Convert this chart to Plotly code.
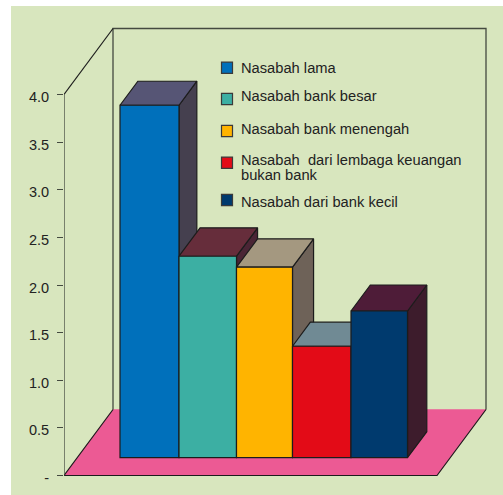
import plotly.graph_objects as go

# ---- data -------------------------------------------------------------
categories = ["Nasabah lama", "Nasabah bank besar", "Nasabah bank menengah",
              "Nasabah  dari lembaga keuangan\nbukan bank", "Nasabah dari bank kecil"]
values = [3.70, 2.115, 2.00, 1.17, 1.54]
front_colors = ["#0070BB", "#3CAFA3", "#FFB400", "#E30B17", "#003A6E"]
top_colors = ["#565575", "#662D3B", "#A49880", "#708A94", "#4E1C38"]
side_colors = ["#45404F", "#4A2535", "#6E6258", "#4A4A55", "#3D1C2C"]
tick_values = [0, 0.5, 1, 1.5, 2, 2.5, 3, 3.5, 4]
tick_labels = ["-", "0.5", "1.0", "1.5", "2.0", "2.5", "3.0", "3.5", "4.0"]

# ---- frame ------------------------------------------------------------
W, H = 503, 495
LEFT, TOP = 64, 6
BG, FLOOR, INK, FRAME = "#D8E6BE", "#EC5A94", "#1C1C1C", "#444A40"
UX, UY = 57.5, 95.25             # px per category / per value unit
X0, Y0 = 148.75, 475.5           # px position of first bar centre / value 0
xrange = [(LEFT - X0) / UX, (W - X0) / UX]
yrange = [(Y0 - H) / UY, (Y0 - TOP) / UY]
LABEL_DROP = 2.5                 # tick labels sit this many px under their ticks
label_range = [yrange[0] + LABEL_DROP / UY, yrange[1] + LABEL_DROP / UY]

# oblique depth: a full floor depth shifts this many axis units
DX, DY = 49 / UX, 66 / UY
wall_x0 = (LEFT - X0) / UX       # left end of the floor front edge
wall_x1 = (437 - X0) / UX        # right end of the floor front edge
v_top = 4.0
bar_d0 = 0.27                    # bar front as a floor-depth fraction
bar_depths = [0.364, 0.43, 0.43, 0.364, 0.394]
bar_edges_px = [120, 179, 236.5, 292.5, 351, 407.5]
legend_swatch_px = [67.7, 99, 131, 162.7, 200]
legend_text_px = [[67.5], [96.5], [128.5], [160.5, 174.5], [202]]


def edge(i):
    return (bar_edges_px[i] - X0) / UX


def proj(x, v, d):
    """category/value/depth to the plotted x, y."""
    return x + d * DX, v + d * DY


def poly(pts, fill, line=INK, width=1.2):
    xs, ys = zip(*pts)
    return go.Scatter(x=list(xs) + [xs[0]], y=list(ys) + [ys[0]], mode="lines", fill="toself",
                      fillcolor=fill, line=dict(color=line, width=width),
                      hoverinfo="skip", showlegend=False)


def path(pts, color=FRAME, width=1.3):
    xs, ys = zip(*pts)
    return go.Scatter(x=list(xs), y=list(ys), mode="lines", line=dict(color=color, width=width),
                      hoverinfo="skip", showlegend=False)


fig = go.Figure()

# floor
fig.add_trace(poly([proj(wall_x0, 0, 0), proj(wall_x1, 0, 0), proj(wall_x1, 0, 1), proj(wall_x0, 0, 1)],
                   FLOOR, line=FLOOR, width=0.5))
# walls
fig.add_trace(path([proj(wall_x0, 0, 1), proj(wall_x0, v_top, 1), proj(wall_x1, v_top, 1), proj(wall_x1, 0, 1)]))
fig.add_trace(path([proj(wall_x0, v_top, 0), proj(wall_x0, v_top, 1)], INK, 1.2))
fig.add_trace(path([proj(wall_x0, 0, 1), proj(wall_x0, 0, 0), proj(wall_x1, 0, 0), proj(wall_x1, 0, 1)], INK, 1.2))
fig.add_trace(path([proj(wall_x0, 0, 0), proj(wall_x0, v_top, 0)]))

# depth faces, painted from left to right
for i, v in enumerate(values):
    xl, xr = edge(i) - bar_d0 * DX, edge(i + 1) - bar_d0 * DX
    d1 = bar_d0 + bar_depths[i]
    fig.add_trace(poly([proj(xr, 0, bar_d0), proj(xr, v, bar_d0), proj(xr, v, d1), proj(xr, 0, d1)],
                       side_colors[i]))
    fig.add_trace(poly([proj(xl, v, bar_d0), proj(xr, v, bar_d0), proj(xr, v, d1), proj(xl, v, d1)],
                       top_colors[i]))

# front faces on an overlaid pair of axes, so they sit above the depth faces
base = bar_d0 * DY
for i, (name, v) in enumerate(zip(categories, values)):
    fig.add_trace(go.Bar(x=[(edge(i) + edge(i + 1)) / 2], y=[v], base=[base], width=[edge(i + 1) - edge(i)],
                         name=name.replace("\n", " "),
                         marker=dict(color=front_colors[i], line=dict(color=INK, width=1.2)),
                         xaxis="x2", yaxis="y2", showlegend=False))

# empty trace that keeps the tick-label axis alive
fig.add_trace(go.Scatter(x=[0], y=[0], mode="none", yaxis="y3", hoverinfo="skip", showlegend=False))


def px(x):
    return (x - LEFT) / (W - LEFT)


def py(y):
    return (H - y) / (H - TOP)


shapes = [
    dict(type="rect", xref="paper", yref="paper", x0=px(0), x1=px(11), y0=py(H), y1=py(0),
         fillcolor="white", line_width=0, layer="below"),
    dict(type="rect", xref="paper", yref="paper", x0=px(0), x1=px(W), y0=py(6), y1=py(0),
         fillcolor="white", line_width=0, layer="below"),
]
annotations = []
for name, row, rows, color in zip(categories, legend_swatch_px, legend_text_px, front_colors):
    shapes.append(dict(type="rect", xref="paper", yref="paper", x0=px(221.5), x1=px(232.5),
                       y0=py(row + 5.6), y1=py(row - 5.6), fillcolor=color,
                       line=dict(color="#3A3A3A", width=1.2)))
    for text, y in zip(name.split("\n"), rows):
        annotations.append(dict(text=text, xref="paper", yref="paper", x=px(238.5), y=py(y),
                                xanchor="left", yanchor="middle", showarrow=False,
                                font=dict(family="Liberation Sans", size=14.7, color="#222222")))

fig.update_layout(
    width=W, height=H, margin=dict(l=LEFT, r=0, t=TOP, b=0, pad=0),
    paper_bgcolor=BG, plot_bgcolor=BG, showlegend=False, barmode="overlay",
    font=dict(family="Liberation Sans", size=14.5, color="#222222"),
    xaxis=dict(range=xrange, visible=False, fixedrange=True),
    yaxis=dict(range=yrange, tickmode="array", tickvals=tick_values, ticktext=[""] * len(tick_values),
               ticks="outside", ticklen=6, tickwidth=1.2, tickcolor=FRAME, showline=False,
               showgrid=False, zeroline=False, fixedrange=True),
    xaxis2=dict(range=xrange, visible=False, overlaying="x", fixedrange=True),
    yaxis2=dict(range=yrange, visible=False, overlaying="y", fixedrange=True),
    yaxis3=dict(range=label_range, tickmode="array", tickvals=tick_values, ticktext=tick_labels,
                ticks="outside", ticklen=6, tickcolor="rgba(0,0,0,0)", showline=False, showgrid=False,
                zeroline=False, ticklabelstandoff=5, overlaying="y", side="left", fixedrange=True),
    shapes=shapes, annotations=annotations,
)

fig.write_html("out.html", config=dict(displayModeBar=False),
               post_script="document.body.style.margin='0';document.body.style.overflow='hidden';")
